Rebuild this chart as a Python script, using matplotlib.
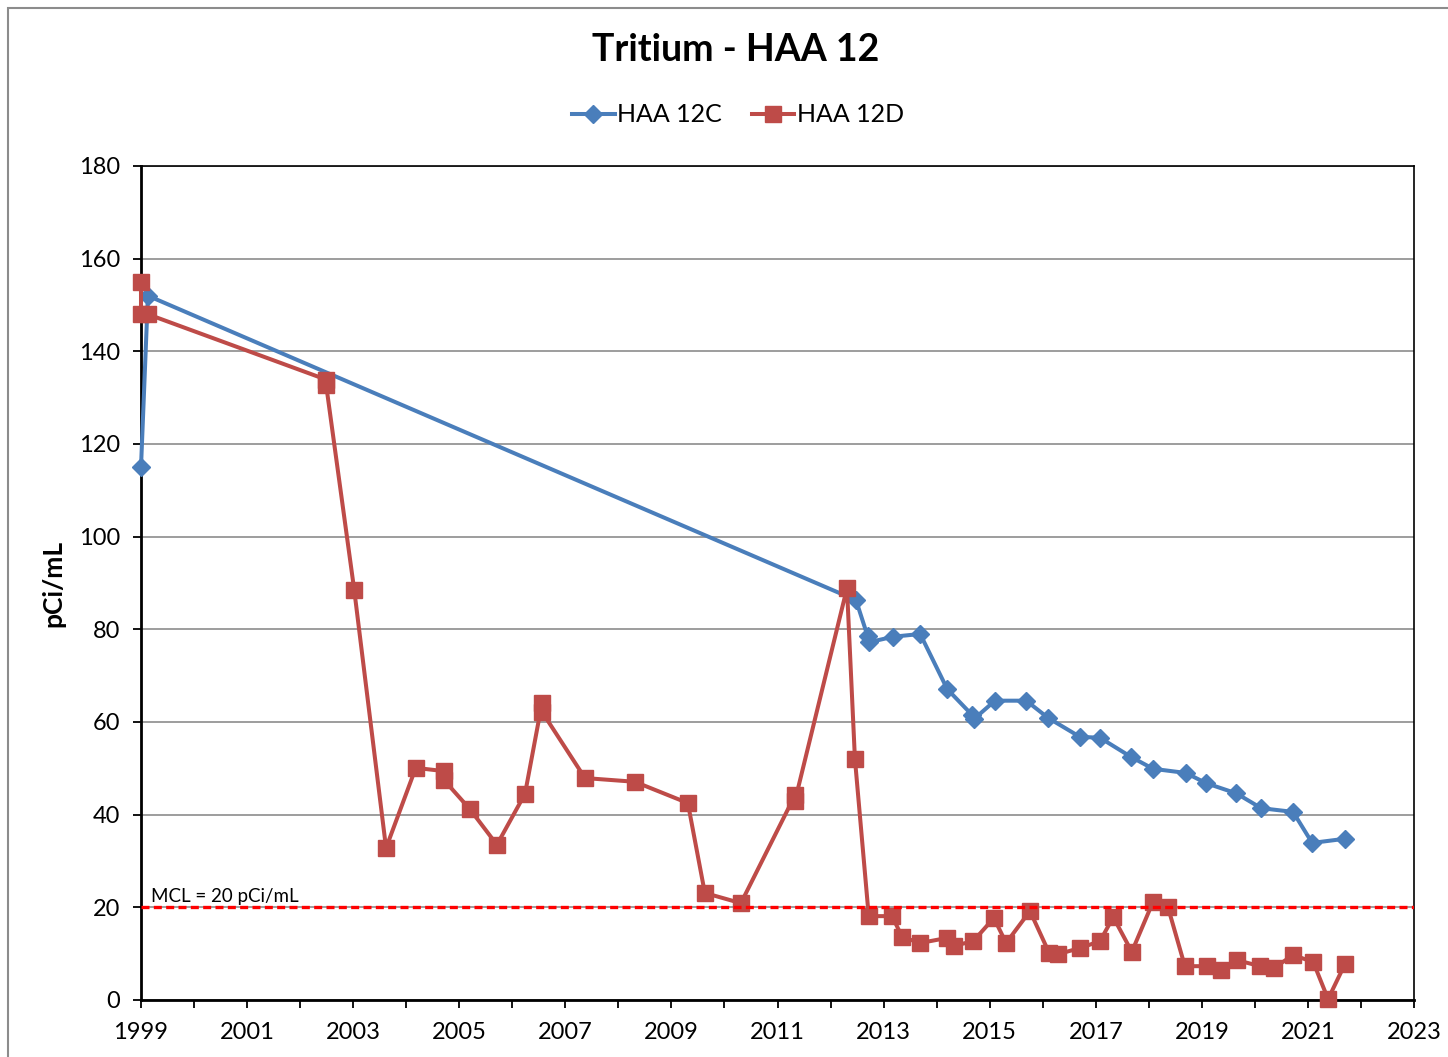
import matplotlib
matplotlib.use("Agg")
import matplotlib.pyplot as plt
from matplotlib.patches import Rectangle
from matplotlib.ticker import MultipleLocator

plt.rcParams['font.family'] = ['Lato', 'DejaVu Sans']

# HAA 12C (decimal years, pCi/mL)
c_year = [1999.0, 1999.13, 2012.48, 2012.7, 2012.72, 2013.18, 2013.69, 2014.2, 2014.67, 2014.7,
          2015.1, 2015.69, 2016.1, 2016.7, 2017.08, 2017.66, 2018.08, 2018.7, 2019.08, 2019.65,
          2020.12, 2020.72, 2021.08, 2021.7]
c_val = [115, 152, 86.3, 78.5, 77.2, 78.4, 79.0, 67.1, 61.5, 60.6,
         64.6, 64.6, 60.9, 56.8, 56.6, 52.5, 49.9, 49.0, 46.8, 44.6,
         41.4, 40.6, 33.9, 34.8]

# HAA 12D
d_year = [1999.0, 1999.0, 1999.13, 2002.49, 2002.49, 2003.02, 2003.62, 2004.18, 2004.71, 2004.71,
          2005.2, 2005.71, 2006.24, 2006.56, 2006.56, 2007.37, 2008.31, 2009.31, 2009.63, 2010.31,
          2011.33, 2011.33, 2012.31, 2012.46, 2012.72, 2013.16, 2013.35, 2013.69, 2014.2, 2014.33,
          2014.69, 2015.08, 2015.31, 2015.76, 2016.12, 2016.29, 2016.7, 2017.08, 2017.33, 2017.68,
          2018.08, 2018.36, 2018.68, 2019.1, 2019.36, 2019.66, 2020.1, 2020.36, 2020.72, 2021.1,
          2021.38, 2021.7]
d_val = [155, 148, 148, 133.9, 132.8, 88.5, 32.8, 50.1, 49.4, 47.5,
         41.2, 33.5, 44.5, 64.1, 62.2, 47.9, 47.1, 42.5, 23.1, 20.9,
         44.2, 43.0, 88.9, 52.0, 18.1, 18.1, 13.6, 12.3, 13.4, 11.7,
         12.7, 17.7, 12.3, 19.2, 10.2, 9.9, 11.2, 12.7, 17.9, 10.4,
         21.2, 20.1, 7.3, 7.3, 6.5, 8.6, 7.3, 6.9, 9.7, 8.2,
         0.2, 7.8]

mcl = 20
x_ticks = list(range(1999, 2024, 2))
y_ticks = list(range(0, 181, 20))

fig = plt.figure(figsize=(14.48, 10.57), dpi=100)
ax = fig.add_axes([141 / 1448, 1 - 1000 / 1057, (1414 - 141) / 1448, (1000 - 166) / 1057])

ax.plot(c_year, c_val, color='#4A7EBB', lw=2.9, marker='D', ms=9.5, label='HAA 12C',
        zorder=3, clip_on=False)
ax.plot(d_year, d_val, color='#BE4B48', lw=2.9, marker='s', ms=11, label='HAA 12D',
        zorder=4, clip_on=False)

ax.axhline(mcl, color='#FF0000', lw=2.4, ls=(0, (2.4, 1.3)), zorder=5)
ax.text(1999.18, mcl + 0.6, 'MCL = 20 pCi/mL', fontsize=13.5, va='bottom', ha='left')

ax.set_xlim(1999, 2023)
ax.set_ylim(0, 180)
ax.set_xticks(x_ticks)
ax.xaxis.set_minor_locator(MultipleLocator(1))
ax.set_yticks(y_ticks)
ax.tick_params(axis='both', which='both', direction='out', length=6, width=1.3, labelsize=17)
ax.tick_params(axis='x', pad=10)
ax.tick_params(axis='y', pad=9)
ax.grid(axis='y', color='#8C8C8C', lw=1.2)
ax.set_axisbelow(True)
for s in ['left', 'bottom']:
    ax.spines[s].set_linewidth(2)
for s in ['right', 'top']:
    ax.spines[s].set_linewidth(1.2)

ax.set_ylabel('pCi/mL', fontsize=19, fontweight='bold', labelpad=10)

fig.text(736 / 1448, 1 - 50 / 1057, 'Tritium - HAA 12', fontsize=27, fontweight='bold',
         ha='center', va='center')
fig.legend(loc='center', bbox_to_anchor=(738 / 1448, 1 - 115 / 1057), ncol=2, frameon=False,
           fontsize=18, handlelength=1.7, columnspacing=1.2, handletextpad=0.1)

fig.patches.append(Rectangle((8 / 1448, -0.1), 1.2, 1.1 - 8 / 1057, transform=fig.transFigure,
                             fill=False, edgecolor='#8C8C8C', lw=1.5))

fig.savefig('out.png', dpi=100)
